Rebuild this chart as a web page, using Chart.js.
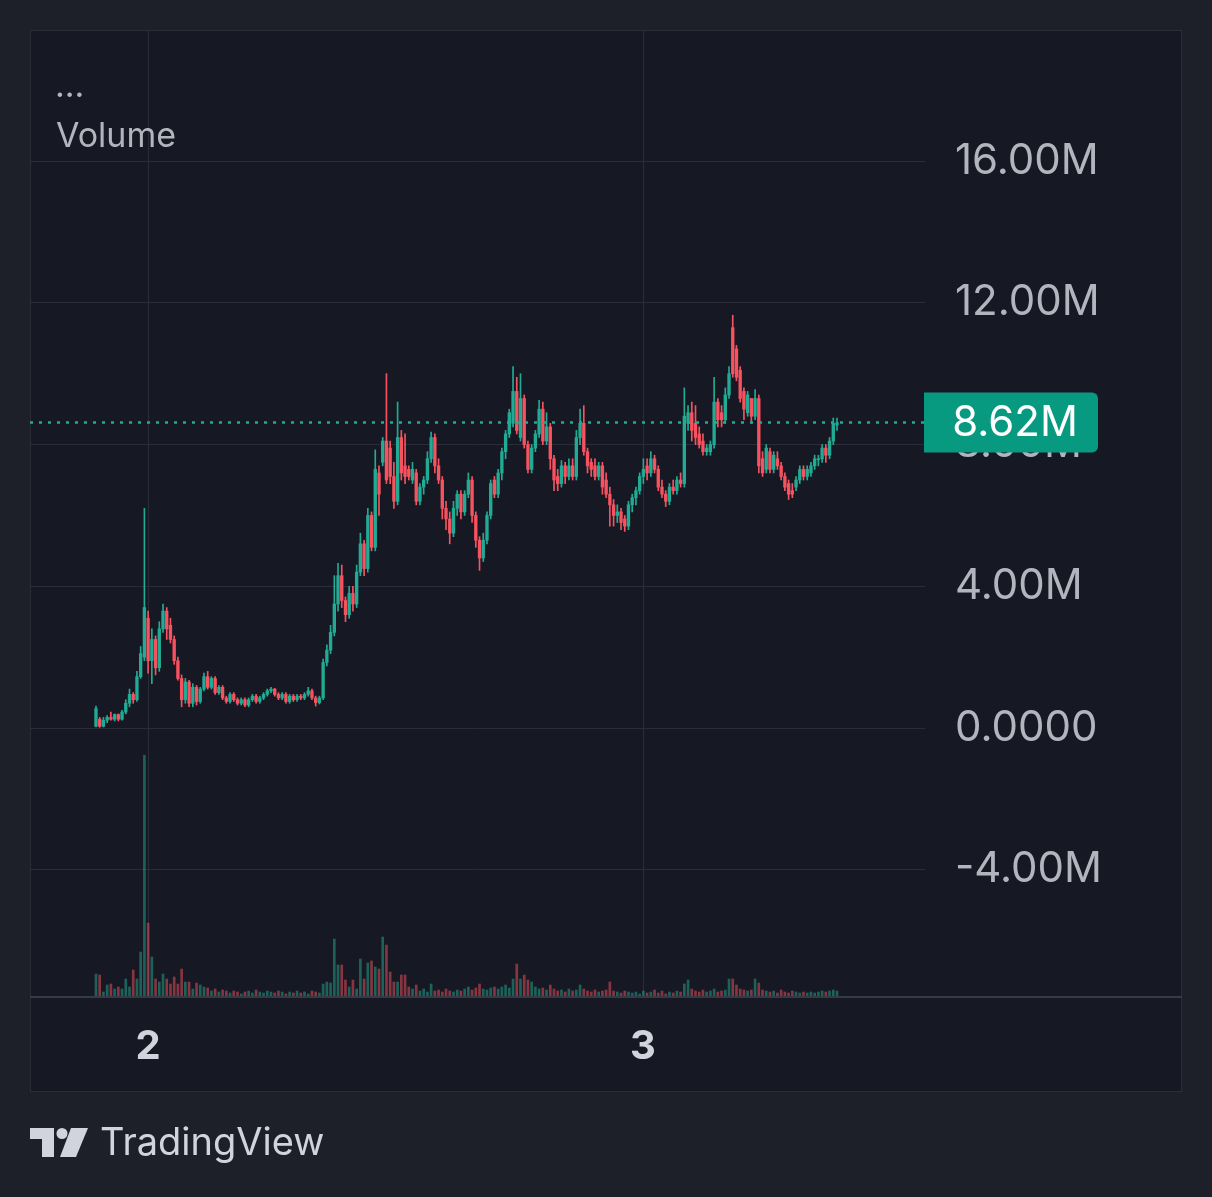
<!DOCTYPE html>
<html><head><meta charset="utf-8">
<script src="https://cdn.jsdelivr.net/npm/chart.js@4.4.1/dist/chart.umd.min.js"></script>
<style>html,body{margin:0;padding:0;background:#1e2029;overflow:hidden}canvas{display:block}</style>
</head><body><canvas id="c" width="1212" height="1197"></canvas>
<script>
// ---- DATA (price in millions, volume in relative units) ----
const opens = [
0.05,0.25,0.05,0.22,0.3,0.25,0.38,0.25,0.45,0.7,
0.95,0.8,1.45,2.0,3.1,1.9,2.5,1.7,2.8,3.3,
2.9,2.5,1.9,1.4,0.8,1.3,0.7,1.15,0.75,1.1,
1.45,1.15,1.4,1.0,1.15,0.85,0.75,0.95,0.8,0.7,
0.8,0.65,0.8,0.9,0.75,0.85,0.95,1.05,1.1,0.95,
0.85,0.95,0.75,0.9,0.8,0.9,0.85,0.95,1.05,0.85,
0.72,
0.85,1.85,2.2,2.7,3.5,4.3,3.6,3.2,3.8,3.5,
4.4,5.2,4.5,6.0,5.1,7.2,7.5,8.1,7.9,7.1,
6.4,8.2,7.4,7.3,7.0,7.2,6.4,6.8,7.0,7.6,
8.2,7.4,7.0,6.2,5.9,5.5,6.2,6.6,6.1,6.6,
7.0,6.0,5.3,4.8,5.3,6.0,7.0,6.6,7.2,7.8,
8.3,8.6,9.5,8.2,9.3,8.0,7.3,7.9,8.3,9.0,
8.1,8.5,7.6,7.1,6.9,7.4,7.1,7.4,7.1,8.2,
8.6,7.8,7.5,7.4,7.1,7.4,7.0,6.6,6.3,6.0,
6.1,5.9,5.7,6.3,6.5,6.7,7.1,7.4,7.2,7.6,
7.3,6.8,6.6,6.4,6.8,6.7,7.0,6.9,8.6,8.9,
8.6,8.3,8.1,7.8,7.8,8.0,9.2,8.9,8.7,9.4,
11.3,10.7,10.1,9.5,8.9,9.3,8.8,9.3,7.6,7.3,
7.8,7.3,7.6,7.4,7.1,6.9,6.7,6.8,7.0,7.3,
7.1,7.2,7.4,7.6,7.6,7.9,7.7,8.1,8.55];
const highs = [
0.62,0.3,0.3,0.35,0.45,0.4,0.4,0.5,0.8,1.1,
1.0,1.6,2.3,6.2,3.3,2.8,2.6,3.0,3.5,3.4,
3.1,2.6,2.0,1.5,1.4,1.35,1.25,1.2,1.15,1.55,
1.6,1.45,1.45,1.2,1.2,0.9,1.0,1.0,0.85,0.85,
0.85,0.85,0.95,0.95,0.9,1.0,1.1,1.15,1.12,1.0,
1.0,1.0,0.95,0.95,0.95,0.95,1.0,1.15,1.1,0.9,
0.9,
1.95,2.35,2.9,4.3,4.65,4.6,3.7,4.0,4.0,4.6,
5.5,5.3,6.2,6.1,7.85,7.4,8.2,10.0,8.1,7.5,
9.2,8.4,8.3,7.4,7.5,7.3,6.9,7.1,7.8,8.35,
8.3,7.6,7.1,6.4,6.1,6.4,6.7,6.7,6.7,7.2,
7.1,6.1,5.4,5.5,6.1,7.0,7.1,7.3,7.9,8.4,
9.0,10.2,9.9,10.0,9.4,8.1,8.0,8.4,9.25,9.2,
8.9,8.6,7.7,7.3,7.55,7.5,7.6,7.6,8.4,9.0,
9.1,7.9,7.6,7.6,7.5,7.5,7.2,6.8,6.45,6.3,
6.2,6.0,6.4,6.6,6.8,7.2,7.6,7.6,7.8,7.7,
7.4,7.0,6.7,6.9,7.0,7.1,7.2,9.6,9.1,9.2,
9.1,8.5,8.3,8.0,8.1,9.9,9.3,9.1,9.6,10.2,
11.65,10.8,10.2,9.6,9.5,9.3,9.55,9.4,7.8,8.0,
7.9,7.8,7.8,7.5,7.2,7.0,6.9,7.1,7.4,7.4,
7.4,7.5,7.7,7.7,8.0,8.0,8.2,8.75,8.75];
const lows = [
0.03,0.02,0.03,0.15,0.22,0.2,0.2,0.22,0.4,0.6,
0.7,0.75,1.4,1.9,1.55,1.25,1.5,1.6,2.7,2.5,
2.4,1.8,1.35,0.6,0.7,0.6,0.6,0.65,0.7,1.05,
1.1,1.1,0.95,0.95,0.8,0.7,0.7,0.75,0.65,0.65,
0.6,0.6,0.75,0.7,0.7,0.8,0.9,1.0,0.9,0.8,
0.8,0.7,0.7,0.75,0.75,0.8,0.8,0.9,0.8,0.62,
0.68,
0.8,1.75,2.1,2.6,3.3,3.4,3.0,3.1,3.3,3.4,
4.3,4.3,4.4,5.0,5.0,6.0,7.4,6.9,6.9,6.2,
6.3,7.0,6.9,7.0,6.9,6.3,6.3,6.6,6.9,7.5,
7.2,6.9,5.9,5.6,5.2,5.4,6.0,5.9,6.0,6.5,
5.8,5.1,4.45,4.7,5.2,5.9,6.5,6.5,7.0,7.6,
8.2,8.5,8.3,8.1,7.9,7.2,7.2,7.8,8.2,8.0,
8.0,7.3,6.7,6.7,6.8,6.9,7.0,7.0,7.0,8.0,
7.7,7.2,7.1,7.0,7.0,6.6,6.5,5.7,5.7,5.8,
5.6,5.55,5.6,6.1,6.3,6.6,6.9,7.0,7.1,7.2,
6.7,6.5,6.25,6.3,6.6,6.6,6.8,6.8,8.4,8.1,
8.0,7.9,7.7,7.7,7.7,7.9,8.5,8.5,8.6,9.3,
9.9,9.8,9.2,8.7,8.8,8.6,8.7,7.2,7.1,7.2,
7.2,7.2,7.3,7.0,6.7,6.45,6.5,6.7,6.9,7.0,
7.0,7.1,7.3,7.4,7.5,7.5,7.6,8.0,8.4];
const closes = [
0.55,0.05,0.22,0.3,0.25,0.38,0.25,0.45,0.7,0.95,
0.8,1.45,2.1,3.4,1.9,2.5,1.7,2.8,3.3,2.8,
2.5,1.9,1.4,0.8,1.3,0.7,1.15,0.75,1.1,1.45,
1.15,1.4,1.0,1.15,0.85,0.75,0.95,0.8,0.7,0.8,
0.65,0.8,0.9,0.75,0.85,0.95,1.05,1.1,0.95,0.85,
0.95,0.75,0.9,0.8,0.9,0.85,0.95,1.05,0.85,0.72,
0.85,
1.85,2.2,2.7,3.5,4.3,3.6,3.2,3.8,3.5,4.4,
5.2,4.5,6.0,5.1,7.3,6.6,8.1,7.0,7.1,6.4,
8.2,7.2,7.1,7.1,7.3,6.4,6.8,7.0,7.6,8.2,
7.4,7.0,6.2,5.9,5.5,6.2,6.6,6.1,6.6,7.0,
6.0,5.3,4.8,5.3,6.0,6.9,6.6,7.2,7.8,8.3,
8.9,9.5,8.4,9.3,8.0,7.3,7.9,8.3,9.0,8.1,
8.5,7.6,7.0,6.9,7.4,7.1,7.4,7.1,8.2,8.6,
7.8,7.4,7.3,7.1,7.4,6.8,6.6,6.3,6.0,6.1,
5.8,5.7,6.3,6.5,6.7,7.1,7.3,7.2,7.6,7.3,
6.8,6.6,6.4,6.8,6.7,7.0,6.9,8.8,8.9,8.4,
8.2,8.0,7.8,7.9,8.0,9.2,8.7,8.7,9.4,10.0,
10.0,9.9,9.3,9.0,9.4,8.8,9.3,7.4,7.2,7.9,
7.3,7.7,7.4,7.1,6.8,6.6,6.6,7.0,7.3,7.1,
7.3,7.4,7.6,7.6,7.9,7.7,8.1,8.6,8.62];
const volumes = [
23,22,5,12,13,8,10,8,18,10,
27,18,45,242,74,40,18,15,23,18,
13,20,13,28,15,15,8,14,12,10,
9,6,8,5,7,6,4,6,5,3,
5,6,4,7,5,4,6,5,4,6,
5,3,5,4,6,4,5,3,6,5,
4,13,15,14,58,32,32,17,10,17,
8,38,18,34,36,30,28,60,52,25,
15,15,22,22,10,8,12,6,8,5,
13,6,7,5,8,6,5,7,6,8,
10,7,9,13,8,7,9,10,8,10,
12,9,18,33,18,22,17,15,10,8,
9,7,12,8,6,7,5,8,6,7,
12,8,6,5,7,5,6,7,15,6,
5,4,6,5,4,5,3,6,4,5,
7,4,6,3,5,4,6,5,13,17,
8,6,5,7,5,6,8,5,6,7,
18,18,12,8,7,6,7,18,14,7,
6,5,6,4,7,5,4,6,5,4,
5,4,5,4,5,6,5,6,7,6];
const dayTickIdx = [14, 146.9];
const dayLabels = ['2', '3'];
const yTickValues = [-4, 0, 4, 8, 12, 16];
const yTickLabels = ['-4.00M', '0.0000', '4.00M', '8.00M', '12.00M', '16.00M'];
const lastPrice = 8.62;
const lastPriceLabel = '8.62M';

// ---- STYLE ----
const UP = '#22ab94', DOWN = '#f7525f';
const FONT = 'Inter, "Noto Sans", sans-serif';
Chart.defaults.font.family = FONT;

const isUp = closes.map((c, i) => c >= opens[i]);
const candleColors = isUp.map(u => u ? UP : DOWN);
const volColors = isUp.map(u => u ? 'rgba(34,171,148,0.5)' : 'rgba(247,82,95,0.5)');
const N = closes.length;
const X_MIN = -17.72, X_MAX = (N - 1) + 23.63;

const wickData = highs.map((h, i) => ({x: i, y: [lows[i], h]}));
const bodyData = opens.map((o, i) => ({x: i, y: [o, closes[i]]}));
const volData = volumes.map((v, i) => ({x: i, y: v}));

const zeroPad = s => { s.paddingTop = 0; s.paddingBottom = 0; s.paddingLeft = 0; s.paddingRight = 0; };

const decor = {
  id: 'decor',
  beforeDraw(chart) {
    const c = chart.ctx;
    c.save();
    c.fillStyle = '#1e2029';
    c.fillRect(0, 0, chart.width, chart.height);
    c.fillStyle = '#161923';
    c.fillRect(30, 30, 1152, 1062);
    c.strokeStyle = '#2a2d38';
    c.lineWidth = 1;
    c.strokeRect(30.5, 30.5, 1151, 1061);
    c.restore();
  },
  afterDraw(chart) {
    const c = chart.ctx;
    const ys = chart.scales.y;
    c.save();
    c.strokeStyle = '#363a45';
    c.lineWidth = 2;
    c.beginPath(); c.moveTo(30, 997); c.lineTo(1182, 997); c.stroke();
    c.fillStyle = '#b2b5be';
    c.font = '34px ' + FONT;
    c.textBaseline = 'alphabetic';
    c.textAlign = 'left';
    c.fillText('...', 55, 97);
    c.fillText('Volume', 56, 147);
    const py = ys.getPixelForValue(lastPrice);
    c.fillStyle = '#089981';
    c.beginPath();
    c.roundRect(924, py - 30, 174, 60, [0, 6, 6, 0]);
    c.fill();
    c.fillStyle = '#ffffff';
    c.font = '42px ' + FONT;
    c.textAlign = 'center';
    c.textBaseline = 'middle';
    c.fillText(lastPriceLabel, 1015, py + 1);
    c.fillStyle = '#d1d4dc';
    c.beginPath();
    c.moveTo(30, 1128); c.lineTo(54, 1128); c.lineTo(54, 1157); c.lineTo(42, 1157);
    c.lineTo(42, 1139); c.lineTo(30, 1139); c.closePath(); c.fill();
    c.beginPath(); c.arc(62, 1133.5, 5.5, 0, Math.PI * 2); c.fill();
    c.beginPath();
    c.moveTo(71, 1128); c.lineTo(88, 1128); c.lineTo(76, 1157); c.lineTo(60, 1157); c.closePath(); c.fill();
    c.font = '38px ' + FONT;
    c.textAlign = 'left';
    c.textBaseline = 'alphabetic';
    c.fillText('TradingView', 100, 1155);
    c.restore();
  }
};

new Chart(document.getElementById('c'), {
  type: 'bar',
  data: {
    datasets: [
      {type: 'line', data: [{x: X_MIN, y: lastPrice}, {x: X_MAX, y: lastPrice}], yAxisID: 'y',
       borderColor: '#22ab94', borderWidth: 2.5, borderDash: [3, 6], pointRadius: 0, order: 0},
      {data: volData, yAxisID: 'yVol', backgroundColor: volColors, barThickness: 2, grouped: false, order: 3},
      {data: wickData, yAxisID: 'y', backgroundColor: candleColors, barThickness: 1, grouped: false, order: 2},
      {data: bodyData, yAxisID: 'y', backgroundColor: candleColors, barThickness: 2.7, grouped: false, minBarLength: 1, order: 1}
    ]
  },
  options: {
    responsive: false,
    animation: false,
    devicePixelRatio: 1,
    layout: {padding: {left: 30, top: 30, right: 30, bottom: 105}},
    plugins: {legend: {display: false}, tooltip: {enabled: false}},
    scales: {
      x: {
        type: 'linear', min: X_MIN, max: X_MAX, offset: false,
        grid: {color: '#2a2d39', drawTicks: false, offset: false},
        border: {display: false},
        ticks: {color: '#d1d4dc', font: {size: 40, weight: 'bold'}, padding: 26, autoSkip: false, maxRotation: 0,
                callback: (v, i) => dayLabels[i]},
        afterBuildTicks: s => { s.ticks = dayTickIdx.map(v => ({value: v})); },
        afterFit: s => { s.height = 95; zeroPad(s); }
      },
      y: {
        type: 'linear', position: 'right', min: -7.59, max: 19.70,
        grid: {color: '#2a2d39', drawTicks: false},
        border: {display: false},
        ticks: {color: '#b2b5be', font: {size: 42}, padding: 30, callback: (v, i) => yTickLabels[i]},
        afterBuildTicks: s => { s.ticks = yTickValues.map(v => ({value: v})); },
        afterFit: s => { s.width = 257; zeroPad(s); }
      },
      yVol: {type: 'linear', display: false, min: 0, max: Math.max(...volumes) * 4}
    }
  },
  plugins: [decor]
});
</script></body></html>
